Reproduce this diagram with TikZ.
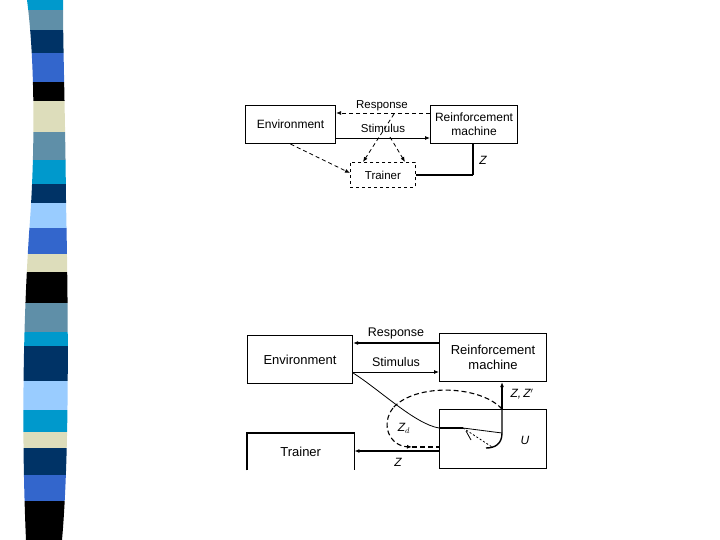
\documentclass[tikz,border=0pt]{standalone}
\usepackage{fontspec}
\setmainfont{Liberation Sans}
\usetikzlibrary{arrows.meta}
\definecolor{scyan}{RGB}{0,153,204}
\definecolor{sgrey}{RGB}{95,143,168}
\definecolor{snavy}{RGB}{0,51,102}
\definecolor{sroyal}{RGB}{51,102,204}
\definecolor{sbeige}{RGB}{221,221,187}
\definecolor{slight}{RGB}{153,204,255}
\tikzset{
  box/.style={draw, line width=1.1pt, anchor=north west, inner sep=0pt, align=center, font=\fontsize{12}{14}\selectfont},
  bbox/.style={box, font=\fontsize{13}{15}\selectfont},
  lbl/.style={inner sep=0pt, font=\fontsize{11.5}{12}\selectfont},
  blbl/.style={inner sep=0pt, font=\fontsize{12.5}{13}\selectfont},
  zlbl/.style={inner sep=0pt, font=\fontsize{12}{13}\selectfont\itshape},
  conn/.style={line width=0.8pt},
  dconn/.style={line width=0.8pt, dash pattern=on 4pt off 3pt},
  tip/.style={-{Latex[length=5pt,width=4pt]}},
}
\begin{document}
\begin{tikzpicture}[x=1pt,y=-1pt]
\useasboundingbox (0,0) rectangle (720,540);
% striped bar
\begin{scope}
\clip (27,0) .. controls (35,60) and (35,150) .. (30,220) .. controls (22,330) and (22,450) .. (26,540) -- (62,540) .. controls (70,450) and (68,300) .. (66,200) .. controls (65,100) and (63,50) .. (63,0) -- cycle;
\foreach \ya/\yb/\c in {0/10/scyan,10/30/sgrey,30/53/snavy,53/82/sroyal,82/101/black,101/132/sbeige,132/160/sgrey,160/184/scyan,184/203/snavy,203/228/slight,228/254/sroyal,254/272/sbeige,272/303/black,303/332/sgrey,332/346/scyan,346/381/snavy,381/410/slight,410/432/scyan,432/448/sbeige,448/475/snavy,475/501/sroyal,501/540/black}
  \fill[\c] (0,\ya) rectangle (80,\yb);
\end{scope}

% ---------- top diagram ----------
\node[box, minimum width=90pt, minimum height=38pt] (env1) at (245,105) {Environment};
\node[box, minimum width=87pt, minimum height=38pt] (rm1) at (430,105) {Reinforcement\\machine};
\node[box, dashed, line width=0.8pt, minimum width=65pt, minimum height=25pt, font=\fontsize{11.5}{13}\selectfont] (tr1) at (350,162) {Trainer};
\draw[dconn, tip] (rm1.west |- 0,113) -- (env1.east |- 0,113);
\draw[conn, tip] (env1.east |- 0,138) -- (rm1.west |- 0,138);
\node[lbl, fill=white, inner xsep=2pt, inner ysep=1pt] (resp1) at (382,106) {Response};
\node[lbl] (stim1) at (383,128) {Stimulus};
\coordinate (ra) at (394,114);
\coordinate (sa) at (390,137);
\draw[dconn, tip] (ra) -- (tr1.north -| 363,0);
\draw[dconn, tip] (sa) -- (tr1.north -| 405,0);
\draw[dconn, tip] (env1.south) -- (tr1.west |- 0,173);
\coordinate (zc) at (473,175);
\draw[line width=2pt] (rm1.south -| zc) -- (zc);
\draw[line width=1.1pt] (zc) -- (tr1.east |- zc);
\node[zlbl] (z1) at (483,160) {Z};

% ---------- bottom diagram ----------
\node[bbox, minimum width=105pt, minimum height=48pt] (env2) at (247,335) {Environment};
\node[bbox, minimum width=107pt, minimum height=48pt] (rm2) at (439,333) {Reinforcement\\machine};
\node[bbox, minimum width=107pt, minimum height=59pt] (u) at (439,409) {};
\node[zlbl] (ulbl) at (525,440) {U};
\node[anchor=north west, inner sep=0pt, minimum width=107pt, minimum height=37pt, font=\fontsize{13}{15}\selectfont] (tr2) at (247,433) {Trainer};
\draw[line width=1.1pt] (tr2.south west) -- (tr2.north west) -- (tr2.north east) -- (tr2.south east);
\node[blbl] (resp2) at (396,333) {Response};
\node[blbl] (stim2) at (396,362) {Stimulus};
\draw[line width=1.4pt, tip] (rm2.west |- 0,343) -- (env2.east |- 0,343);
\draw[conn, tip] (env2.east |- 0,372) -- (rm2.west |- 0,372);
\draw[line width=1.4pt, tip] (u.west |- 0,451) -- (tr2.east |- 0,451);
\node[zlbl] (z2) at (398,462) {Z};
\coordinate (ut) at (502,409);
\draw[line width=1.4pt, tip] (ut) -- (rm2.south -| ut);
\node[zlbl] (zz) at (522,394) {Z,\,Z$'$};
% inside U
\coordinate (uk) at (502,433);
\coordinate (apx) at (463,428);
\coordinate (ub) at (486,448);
\draw[line width=1.4pt] (ut) -- (uk) .. controls (502,444) and (495,448) .. (ub);
\draw[line width=1.4pt] (u.west |- apx) -- (apx);
\draw[conn] (apx) -- (uk);
\draw[dconn, dash pattern=on 2pt off 2pt] (apx) -- (492,447);
\draw[conn] (466,431) -- (471,440);
% long curve from Environment
\draw[conn] (env2.east |- 0,373) .. controls (380,390) and (415,424) .. (u.west |- apx);
% dashed loop
\coordinate (lp) at (393,408);
\coordinate (la) at (412,447);
\draw[line width=1.1pt, dash pattern=on 5pt off 3pt] (ut) .. controls (480,385) and (415,383) .. (lp);
\draw[line width=1.1pt, dash pattern=on 5pt off 3pt, tip] (lp) .. controls (380,425) and (390,446) .. (la);
\draw[line width=1.1pt, dash pattern=on 5pt off 3pt] (la) -- (u.west |- la);
\node[zlbl] (zd) at (404,428) {Z$_d$};
\end{tikzpicture}
\end{document}
